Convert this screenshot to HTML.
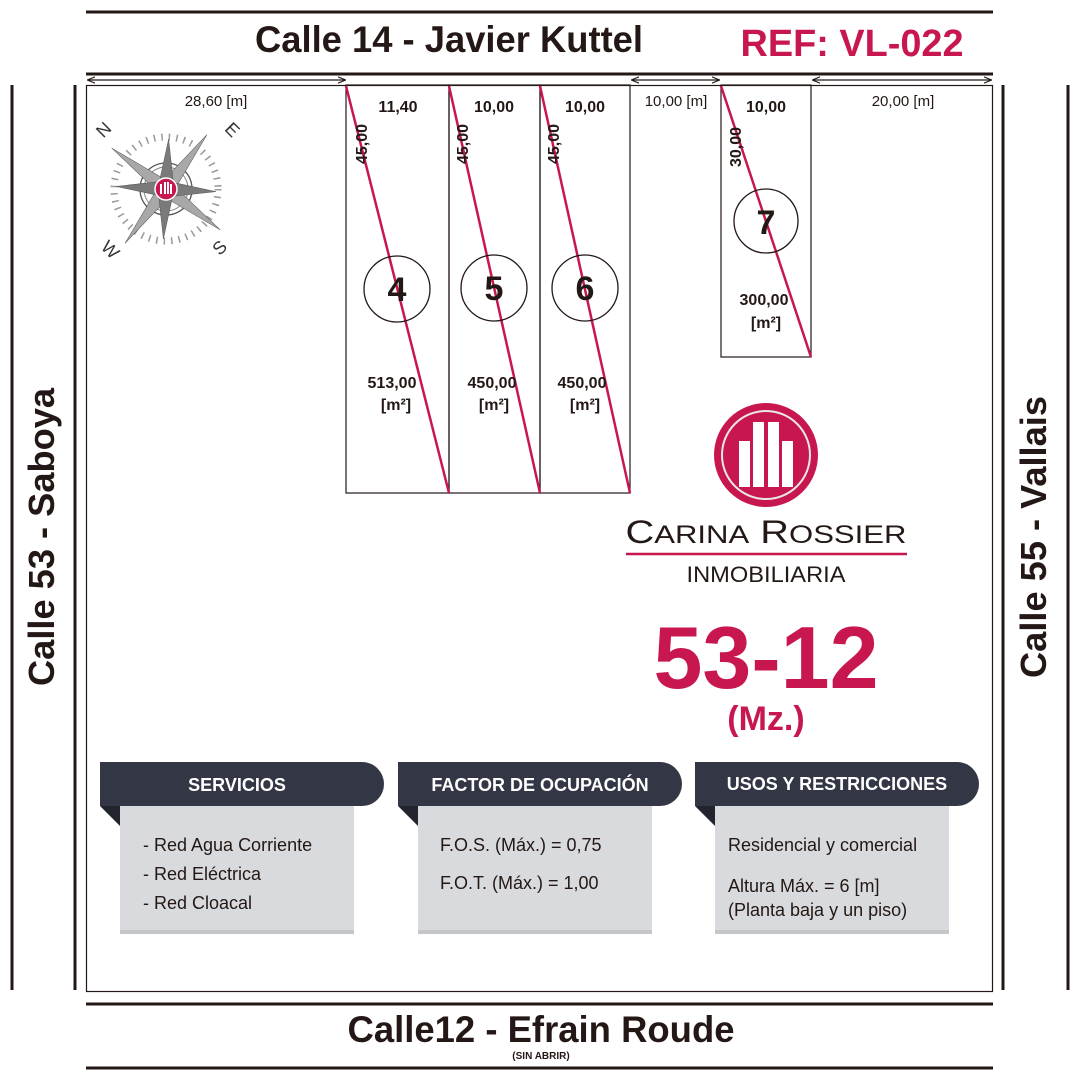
<!DOCTYPE html>
<html><head><meta charset="utf-8"><style>
html,body{margin:0;padding:0;background:#fff}
svg{display:block}
text{font-family:"Liberation Sans",Arial,sans-serif}
</style></head><body>
<svg width="1080" height="1080" viewBox="0 0 1080 1080" xmlns="http://www.w3.org/2000/svg">
<defs>
<marker id="ar" viewBox="0 0 10 10" refX="9" refY="5" markerWidth="6" markerHeight="6" orient="auto-start-reverse"><path d="M0,1 L10,5 L0,9" fill="none" stroke="#231815" stroke-width="1.5"/></marker>
</defs>
<line x1="86" y1="12" x2="993" y2="12" stroke="#231815" stroke-width="3"/>
<line x1="86" y1="74" x2="993" y2="74" stroke="#231815" stroke-width="3"/>
<line x1="86" y1="1004" x2="993" y2="1004" stroke="#231815" stroke-width="3"/>
<line x1="86" y1="1068" x2="993" y2="1068" stroke="#231815" stroke-width="3"/>
<line x1="12" y1="85" x2="12" y2="990" stroke="#231815" stroke-width="3"/>
<line x1="75" y1="85" x2="75" y2="990" stroke="#231815" stroke-width="3"/>
<line x1="1003" y1="85" x2="1003" y2="990" stroke="#231815" stroke-width="3"/>
<line x1="1068" y1="85" x2="1068" y2="990" stroke="#231815" stroke-width="3"/>
<rect x="86.5" y="85.5" width="906" height="906" fill="none" stroke="#231815" stroke-width="1.2"/>
<g stroke="#231815" stroke-width="1.3">
<line x1="88" y1="80" x2="345" y2="80" marker-start="url(#ar)" marker-end="url(#ar)"/>
<line x1="632" y1="80" x2="719" y2="80" marker-start="url(#ar)" marker-end="url(#ar)"/>
<line x1="813" y1="80" x2="991" y2="80" marker-start="url(#ar)" marker-end="url(#ar)"/>
</g>
<g font-size="15" fill="#231815" text-anchor="middle">
<text x="216" y="106">28,60 [m]</text>
<text x="676" y="106">10,00 [m]</text>
<text x="903" y="106">20,00 [m]</text>
</g>
<g fill="none" stroke="#231815" stroke-width="1.2">
<rect x="346" y="85" width="103" height="408"/>
<rect x="449" y="85" width="91" height="408"/>
<rect x="540" y="85" width="90" height="408"/>
<rect x="721" y="85" width="90" height="272"/>
</g>
<g stroke="#c8174f" stroke-width="2.5">
<line x1="346" y1="86" x2="449" y2="493"/>
<line x1="449" y1="86" x2="540" y2="493"/>
<line x1="540" y1="86" x2="630" y2="493"/>
<line x1="721" y1="86" x2="811" y2="357"/>
</g>
<g fill="none" stroke="#231815" stroke-width="1.3">
<circle cx="397" cy="289" r="33"/>
<circle cx="494" cy="288" r="33"/>
<circle cx="585" cy="288" r="33"/>
<circle cx="766" cy="221" r="32"/>
</g>
<g font-weight="bold" fill="#231815" text-anchor="middle">
<text x="397" y="301" font-size="34">4</text>
<text x="494" y="300" font-size="34">5</text>
<text x="585" y="300" font-size="34">6</text>
<text x="766" y="234" font-size="34">7</text>
<text x="398" y="112" font-size="16">11,40</text>
<text x="494" y="112" font-size="16">10,00</text>
<text x="585" y="112" font-size="16">10,00</text>
<text x="766" y="112" font-size="16">10,00</text>
<text x="392" y="388" font-size="16">513,00</text>
<text x="396" y="410" font-size="16">[m²]</text>
<text x="492" y="388" font-size="16">450,00</text>
<text x="494" y="410" font-size="16">[m²]</text>
<text x="582" y="388" font-size="16">450,00</text>
<text x="585" y="410" font-size="16">[m²]</text>
<text x="764" y="305" font-size="16">300,00</text>
<text x="766" y="328" font-size="16">[m²]</text>
<text transform="translate(367,144) rotate(-90)" font-size="16">45,00</text>
<text transform="translate(468,144) rotate(-90)" font-size="16">45,00</text>
<text transform="translate(559,144) rotate(-90)" font-size="16">45,00</text>
<text transform="translate(741,147) rotate(-90)" font-size="16">30,00</text>
</g>
<g font-weight="bold" fill="#231815" text-anchor="middle">
<text x="449" y="52" font-size="37" textLength="388" lengthAdjust="spacingAndGlyphs">Calle 14 - Javier Kuttel</text>
<text x="541" y="1042" font-size="37" textLength="387" lengthAdjust="spacingAndGlyphs">Calle12 - Efrain Roude</text>
<text x="541" y="1059" font-size="10">(SIN ABRIR)</text>
<text transform="translate(54,537) rotate(-90)" font-size="36" textLength="298" lengthAdjust="spacingAndGlyphs">Calle 53 - Saboya</text>
<text transform="translate(1046,537) rotate(-90)" font-size="36" textLength="282" lengthAdjust="spacingAndGlyphs">Calle 55 - Vallais</text>
</g>
<text x="852" y="56" font-size="38" font-weight="bold" fill="#c8174f" text-anchor="middle" textLength="223" lengthAdjust="spacingAndGlyphs">REF: VL-022</text>
<g transform="translate(166,189)">
<circle r="52" fill="none" stroke="#999" stroke-dasharray="1.5 6" stroke-width="7"/>
<circle r="26" fill="none" stroke="#555" stroke-width="1.3"/>
<circle r="22" fill="none" stroke="#888" stroke-width="1"/>
<g fill="#a8a8a8" stroke="#555" stroke-width="0.5">
<g transform="rotate(-8)">
<polygon points="0,-68 7,-7 -7,-7" transform="rotate(45)"/>
<polygon points="0,-68 7,-7 -7,-7" transform="rotate(135)"/>
<polygon points="0,-68 7,-7 -7,-7" transform="rotate(225)"/>
<polygon points="0,-68 7,-7 -7,-7" transform="rotate(315)"/>
</g>
<g transform="rotate(3)" fill="#7a7a7a">
<polygon points="0,-50 7,-7 -7,-7"/>
<polygon points="0,-50 7,-7 -7,-7" transform="rotate(90)"/>
<polygon points="0,-50 7,-7 -7,-7" transform="rotate(180)"/>
<polygon points="0,-50 7,-7 -7,-7" transform="rotate(270)"/>
</g>
</g>
<circle r="11" fill="#c8174f" stroke="#fff" stroke-width="1.5"/>
<g fill="#fff"><rect x="-6" y="-5" width="2" height="10"/><rect x="-2" y="-7" width="2" height="12"/><rect x="1" y="-7" width="2" height="12"/><rect x="4" y="-5" width="2" height="10"/></g>
</g>
<g font-family="Liberation Serif,serif" font-size="18" fill="#333" text-anchor="middle">
<text transform="translate(108,134) rotate(-45)">N</text>
<text transform="translate(228,134) rotate(45)">E</text>
<text transform="translate(106,254) rotate(45)">W</text>
<text transform="translate(224,252) rotate(-45)">S</text>
</g>
<circle cx="766" cy="455" r="52" fill="#c8174f"/>
<circle cx="766" cy="455" r="44" fill="none" stroke="#e8e8e8" stroke-width="2"/>
<g fill="#fff">
<rect x="739" y="441" width="11" height="46"/>
<rect x="753" y="422" width="11" height="65"/>
<rect x="768" y="422" width="11" height="65"/>
<rect x="782" y="441" width="11" height="46"/>
</g>
<text x="766" y="543" font-family="Liberation Serif,serif" font-size="32" fill="#231815" text-anchor="middle" textLength="281" lengthAdjust="spacingAndGlyphs">C<tspan font-size="25">ARINA</tspan> R<tspan font-size="25">OSSIER</tspan></text>
<line x1="626" y1="554" x2="907" y2="554" stroke="#c8174f" stroke-width="2.5"/>
<text x="766" y="582" font-size="22" fill="#231815" text-anchor="middle" textLength="159" lengthAdjust="spacingAndGlyphs">INMOBILIARIA</text>
<text x="766" y="688" font-size="88" font-weight="bold" fill="#c8174f" text-anchor="middle">53-12</text>
<text x="766" y="730" font-size="34" font-weight="bold" fill="#c8174f" text-anchor="middle">(Mz.)</text>
<g>
<polygon points="100,806 120,806 120,826" fill="#22252e"/>
<rect x="120" y="806" width="234" height="126" fill="#d9dadd"/>
<rect x="120" y="930" width="234" height="4" fill="#c5c6ca"/>
<path d="M100,762 H362 A22,22 0 0 1 362,806 H100 Z" fill="#333745"/>
<text x="237" y="791" font-size="18" font-weight="bold" fill="#fff" text-anchor="middle">SERVICIOS</text>
<g font-size="18" fill="#231815"><text x="143" y="851">- Red Agua Corriente</text><text x="143" y="880">- Red Eléctrica</text><text x="143" y="909">- Red Cloacal</text></g>

<polygon points="398,806 418,806 418,826" fill="#22252e"/>
<rect x="418" y="806" width="234" height="126" fill="#d9dadd"/>
<rect x="418" y="930" width="234" height="4" fill="#c5c6ca"/>
<path d="M398,762 H660 A22,22 0 0 1 660,806 H398 Z" fill="#333745"/>
<text x="540" y="791" font-size="18" font-weight="bold" fill="#fff" text-anchor="middle">FACTOR DE OCUPACIÓN</text>
<g font-size="18" fill="#231815"><text x="440" y="851">F.O.S. (Máx.) = 0,75</text><text x="440" y="889">F.O.T. (Máx.) =  1,00</text></g>

<polygon points="695,806 715,806 715,826" fill="#22252e"/>
<rect x="715" y="806" width="234" height="126" fill="#d9dadd"/>
<rect x="715" y="930" width="234" height="4" fill="#c5c6ca"/>
<path d="M695,762 H957 A22,22 0 0 1 957,806 H695 Z" fill="#333745"/>
<text x="837" y="790" font-size="18" font-weight="bold" fill="#fff" text-anchor="middle">USOS Y RESTRICCIONES</text>
<g font-size="18" fill="#231815"><text x="728" y="851">Residencial y comercial</text><text x="728" y="892">Altura Máx. = 6 [m]</text><text x="728" y="916">(Planta baja y un piso)</text></g>
</g>
</svg>
</body></html>
